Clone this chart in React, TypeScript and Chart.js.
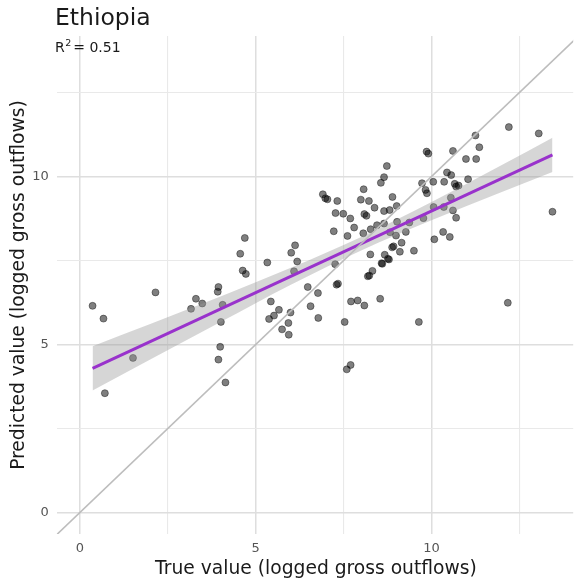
import React, { useEffect, useRef } from "react";
import { Chart, registerables } from "chart.js";

Chart.register(...registerables);

// ---- Data ----
const titleText = "Ethiopia";
const r2Label = "0.51";
const xTitle = "True value (logged gross outflows)";
const yTitle = "Predicted value (logged gross outflows)";

const gridTicks = [0, 2.5, 5, 7.5, 10, 12.5];

const trueVals = [
  0.36, 0.67, 2.15, 1.51, 0.71, 3.16, 3.3, 3.48, 3.94, 3.92, 4.06, 4.01, 3.99, 3.94, 4.14, 4.69, 4.56, 4.63, 4.72,
  6.91, 6.98, 7.04, 7.32, 8.07, 7.99, 7.27, 7.49, 7.69, 8.09, 8.15, 7.8, 7.22, 7.61, 8.06, 6.12, 6.01, 6.18, 5.33, 7.26, 6.09,
  6.48, 6.77, 7.3, 7.34, 5.43, 5.66, 5.52, 5.38, 5.99, 5.93, 5.75, 5.94, 6.56, 6.78, 7.71, 7.9, 8.09, 7.53, 7.7, 7.59,
  8.73, 8.65, 8.56, 8.89, 8.22, 8.38, 8.65, 8.81, 9.01, 8.27, 8.45, 8.65, 9.02, 8.82, 8.99, 9.27, 9.37, 9.15, 9.1, 8.92, 8.88, 9.5,
  8.26, 8.67, 8.76, 8.79, 8.58, 8.6, 8.32, 8.19, 8.23, 8.54, 9.64, 9.73, 9.83, 9.87, 10.33, 10.08, 9.77,
  12.2, 13.05, 11.25, 11.36, 10.61, 9.86, 9.91, 10.98, 11.27, 10.44, 10.56, 10.36, 11.04, 10.05, 10.66, 10.7, 10.77, 10.55, 10.06, 10.35, 10.61, 10.7, 13.44, 10.52, 12.17,
];

const predVals = [
  6.15, 5.77, 6.55, 4.6, 3.55, 6.06, 6.36, 6.22, 6.71, 6.57, 6.18, 5.67, 4.93, 4.55, 3.87, 8.17, 7.7, 7.2, 7.1,
  9.47, 9.35, 9.32, 9.27, 9.62, 9.31, 8.91, 8.89, 8.75, 8.88, 8.83, 8.48, 8.37, 8.23, 8.31, 7.95, 7.73, 7.47, 7.44, 7.39, 7.18,
  6.71, 6.53, 6.78, 6.81, 6.28, 6.03, 5.86, 5.76, 5.95, 5.64, 5.45, 5.29, 6.14, 5.79, 6.28, 6.31, 6.16, 5.67, 4.39, 4.26,
  10.31, 9.98, 9.81, 9.39, 9.27, 9.07, 8.97, 9.0, 9.12, 8.43, 8.55, 8.6, 8.65, 8.34, 8.24, 8.35, 8.63, 8.03, 7.76, 7.92, 7.89, 7.79,
  7.68, 7.67, 7.55, 7.53, 7.42, 7.4, 7.19, 7.03, 7.05, 6.36, 5.67, 9.8, 9.6, 9.5, 8.35, 8.13, 8.76,
  11.47, 11.28, 11.22, 10.87, 10.76, 10.74, 10.68, 10.52, 10.52, 10.12, 10.04, 9.84, 9.92, 9.84, 9.78, 9.7, 9.73, 9.37, 9.09, 9.09, 8.99, 8.77, 8.95, 8.2, 6.24,
];

// fitted line and its confidence band
const fitX = [0.36, 13.44];
const fitY = [4.29, 10.64];
const bandX = [0.36, 2, 4, 6, 8, 10, 12, 13.44];
const bandLower = [3.63, 4.55, 5.67, 6.78, 7.8, 8.7, 9.54, 10.13];
const bandUpper = [4.95, 5.61, 6.43, 7.28, 8.2, 9.24, 10.34, 11.15];

// identity line endpoints and axis limits
const diagVals = [-1, 15];
const xLimits = [-0.66, 14.03];
const yLimits = [-0.64, 14.18];

const FONT = '"DejaVu Sans", sans-serif';

export default function App() {
  const ref = useRef<HTMLCanvasElement>(null);

  useEffect(() => {
    const canvas = ref.current;
    if (!canvas) return;

    const isMajor = (v: any) => typeof v === "number" && Math.abs(v % 5) < 1e-9;

    const textPlugin = {
      id: "texts",
      afterDraw(chart: any) {
        const c = chart.ctx as CanvasRenderingContext2D;
        const a = chart.chartArea;
        c.save();
        c.fillStyle = "#1a1a1a";
        c.textBaseline = "alphabetic";
        c.textAlign = "left";
        c.font = `23.5px ${FONT}`;
        c.fillText(titleText, 55, 25);

        c.font = `14px ${FONT}`;
        c.fillText("R", 55, 51.7);
        const wR = c.measureText("R").width;
        c.font = `9.5px ${FONT}`;
        c.fillText("2", 55 + wR + 0.5, 45.5);
        const w2 = c.measureText("2").width;
        c.font = `14px ${FONT}`;
        c.fillText("= " + r2Label, 55 + wR + w2 + 2.5, 51.7);

        c.font = `18.7px ${FONT}`;
        c.textAlign = "center";
        c.fillText(xTitle, (a.left + a.right) / 2 + 1, 574);
        c.translate(23.5, (a.top + a.bottom) / 2);
        c.rotate(-Math.PI / 2);
        c.fillText(yTitle, 0, 0);
        c.restore();
      },
    };

    const axisCommon = (fit: (s: any) => void) => ({
      type: "linear" as const,
      afterBuildTicks: (s: any) => {
        s.ticks = gridTicks.map((v) => ({ value: v }));
      },
      afterFit: fit,
      border: { display: false },
      grid: {
        drawTicks: false,
        color: (ctx: any) => (isMajor(ctx.tick?.value) ? "#dedede" : "#e9e9e9"),
        lineWidth: (ctx: any) => (isMajor(ctx.tick?.value) ? 1.5 : 1.1),
      },
      ticks: {
        autoSkip: false,
        maxRotation: 0,
        color: "#555555",
        font: { family: FONT, size: 13 },
        callback: (v: any) => (isMajor(v) ? String(v) : ""),
      },
    });

    const xAxis: any = axisCommon((s: any) => {
      s.height = 51;
    });
    xAxis.min = xLimits[0];
    xAxis.max = xLimits[1];
    xAxis.ticks.padding = 7;

    const yAxis: any = axisCommon((s: any) => {
      s.width = 56.7;
    });
    yAxis.min = yLimits[0];
    yAxis.max = yLimits[1];
    yAxis.ticks.padding = 8;

    const chart = new Chart(canvas, {
      type: "scatter",
      data: {
        datasets: [
          {
            type: "line",
            data: diagVals.map((v) => ({ x: v, y: v })),
            borderColor: "#bdbdbd",
            borderWidth: 1.6,
            pointRadius: 0,
            fill: false,
            clip: 0,
          } as any,
          {
            type: "line",
            data: fitX.map((x, i) => ({ x, y: fitY[i] })),
            borderColor: "#9932CC",
            borderWidth: 3,
            pointRadius: 0,
            fill: false,
            clip: 0,
          } as any,
          {
            type: "line",
            data: bandX.map((x, i) => ({ x, y: bandUpper[i] })),
            borderWidth: 0,
            borderColor: "rgba(0,0,0,0)",
            backgroundColor: "rgba(153,153,153,0.4)",
            pointRadius: 0,
            fill: "+1",
            cubicInterpolationMode: "monotone",
            clip: 0,
          } as any,
          {
            type: "line",
            data: bandX.map((x, i) => ({ x, y: bandLower[i] })),
            borderWidth: 0,
            borderColor: "rgba(0,0,0,0)",
            pointRadius: 0,
            fill: false,
            cubicInterpolationMode: "monotone",
            clip: 0,
          } as any,
          {
            type: "scatter",
            data: trueVals.map((x, i) => ({ x, y: predVals[i] })),
            backgroundColor: "rgba(0,0,0,0.5)",
            borderColor: "rgba(0,0,0,0.5)",
            borderWidth: 0.8,
            pointRadius: 3.5,
            clip: 0,
          } as any,
        ],
      },
      options: {
        animation: false,
        responsive: false,
        devicePixelRatio: 1,
        events: [],
        layout: { padding: { top: 36, left: 0, right: 0, bottom: 0 } },
        plugins: {
          legend: { display: false },
          tooltip: { enabled: false },
          title: { display: false },
        },
        scales: { x: xAxis, y: yAxis },
      },
      plugins: [textPlugin],
    });

    return () => chart.destroy();
  }, []);

  return (
    <div style={{ position: "fixed", left: 0, top: 0, width: 578, height: 585, background: "#fff" }}>
      <canvas ref={ref} width={578} height={585} style={{ width: 578, height: 585, display: "block" }} />
    </div>
  );
}
